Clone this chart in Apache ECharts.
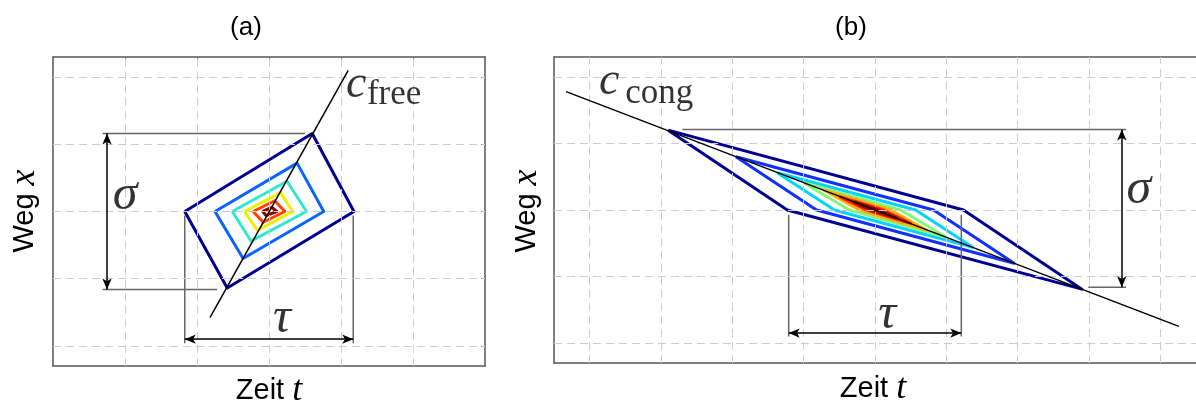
<!DOCTYPE html>
<html>
<head>
<meta charset="utf-8">
<script src="https://cdn.jsdelivr.net/npm/echarts@6/dist/echarts.min.js"></script>
<style>
  html, body { margin: 0; padding: 0; background: #fff; }
  #chart { width: 1196px; height: 408px; }
</style>
</head>
<body>
<div id="chart"></div>
<script>
// ---- grid positions (axis units) ----
const gridTimeA = [-2, -1, 0, 1, 2];
const gridTimeB = [-4, -3, -2, -1, 0, 1, 2, 3, 4];
const gridPos = [-2, -1, 0, 1, 2];

// ---- panel (a): free flow, contour levels from outside to centre ----
const freeLevel1 = [[-1.17, 0], [0.6, 1.16], [1.18, 0], [-0.58, -1.14]];
const freeLevel2 = [[-0.75, 0], [0.39, 0.72], [0.76, 0], [-0.36, -0.70]];
const freeLevel3 = [[-0.51, 0], [0.25, 0.45], [0.52, 0], [-0.25, -0.44]];
const freeLevel4 = [[-0.34, 0], [0.16, 0.28], [0.33, 0], [-0.16, -0.28]];
const freeLevel5 = [[-0.22, 0], [0.08, 0.16], [0.22, 0], [-0.08, -0.16]];
const freeLevel6 = [[-0.09, 0], [0.04, 0.06], [0.11, 0], [-0.04, -0.06]];
const freeWave = [[-0.82, -1.58], [1.10, 2.10]];

// ---- panel (b): congested flow ----
const congLevel1 = [[-2.9, 1.2], [1.24, 0], [2.9, -1.19], [-1.23, 0]];
const congLevel2 = [[-1.95, 0.8], [0.82, 0], [1.95, -0.8], [-0.82, 0]];
const congLevel3 = [[-1.37, 0.56], [0.57, 0], [1.37, -0.56], [-0.57, 0]];
const congLevel4 = [[-1.0, 0.41], [0.36, 0], [1.0, -0.41], [-0.36, 0]];
const congLevel5 = [[-0.72, 0.3], [0.22, 0], [0.72, -0.3], [-0.22, 0]];
const congLevel6 = [[-0.5, 0.2], [0.12, 0], [0.5, -0.2], [-0.12, 0]];
const congLevel7 = [[-0.3, 0.12], [0.05, 0], [0.3, -0.12], [-0.05, 0]];
const congWave = [[-4.33, 1.78], [4.26, -1.75]];

// ---- dimension annotations ----
const sigmaA = { top: 1.16, bottom: -1.16, x: -2.25, from: -2.31, topTo: 0.5, bottomTo: -0.72 };
const tauA = { left: -1.17, right: 1.17, y: -1.9, from: -0.06, to: -1.96 };
const sigmaB = { top: 1.21, bottom: -1.16, x: 3.46, topFrom: -2.7, bottomFrom: 2.99, to: 3.52 };
const tauB = { left: -1.21, right: 1.21, y: -1.85, from: -0.07, to: -1.9 };

const freeColors = ['#000090', '#0a64ff', '#30e8d0', '#f2ee00', '#ff4000', '#8b0000'];
const congColors = ['#000090', '#1030ff', '#00d4ff', '#88f47a', '#ffb000', '#ff2000', '#a00000'];

const mathFont = 'Liberation Serif';
const sansFont = 'Liberation Sans';

function closed(pts) { return pts.concat([pts[0]]); }

function polySeries(pts, color, idx, z) {
  return {
    type: 'line', xAxisIndex: idx, yAxisIndex: idx, data: closed(pts),
    symbol: 'none', silent: true, animation: false, z: z,
    lineStyle: { color: color, width: 3, join: 'round' }
  };
}

function plainLine(pts, idx, color, width, z) {
  return {
    type: 'line', xAxisIndex: idx, yAxisIndex: idx, data: pts,
    symbol: 'none', silent: true, animation: false, z: z,
    lineStyle: { color: color, width: width }
  };
}

function gridLines(idx, xs, ys) {
  return {
    type: 'line', xAxisIndex: idx, yAxisIndex: idx, data: [], silent: true, z: 1,
    markLine: {
      silent: true, symbol: 'none', animation: false, label: { show: false },
      lineStyle: { type: [8, 5], color: '#cdcdcd', width: 1 },
      data: xs.map(v => ({ xAxis: v })).concat(ys.map(v => ({ yAxis: v })))
    }
  };
}

function arrowSeries(idx, segs) {
  return {
    type: 'line', xAxisIndex: idx, yAxisIndex: idx, data: [], silent: true, z: 6,
    markLine: {
      silent: true, animation: false, symbol: ['arrow', 'arrow'], symbolSize: [7, 11],
      label: { show: false },
      lineStyle: { type: 'solid', color: '#000', width: 1.5 },
      data: segs.map(s => [{ coord: s[0] }, { coord: s[1] }])
    }
  };
}

function mathItem(xy, text, size, italic, align) {
  return {
    value: xy,
    label: {
      show: true, position: 'inside', formatter: text, color: '#000',
      fontFamily: mathFont, fontStyle: italic ? 'italic' : 'normal', fontSize: size,
      align: align, verticalAlign: 'middle'
    }
  };
}

function labelSeries(idx, items) {
  return {
    type: 'scatter', xAxisIndex: idx, yAxisIndex: idx, symbolSize: 0, silent: true,
    animation: false, z: 7, data: items
  };
}

const series = [
  gridLines(0, gridTimeA, gridPos),
  gridLines(1, gridTimeB, gridPos)
];

[freeLevel1, freeLevel2, freeLevel3, freeLevel4, freeLevel5, freeLevel6].forEach((p, i) =>
  series.push(polySeries(p, freeColors[i], 0, 3 + i * 0.01)));
[congLevel1, congLevel2, congLevel3, congLevel4, congLevel5, congLevel6, congLevel7].forEach((p, i) =>
  series.push(polySeries(p, congColors[i], 1, 3 + i * 0.01)));

series.push(plainLine(freeWave, 0, '#000', 1.5, 5));
series.push(plainLine(congWave, 1, '#000', 1.5, 5));

// extension lines of the dimensions
const extColor = '#666';
series.push(plainLine([[sigmaA.from, sigmaA.top], [sigmaA.topTo, sigmaA.top]], 0, extColor, 1.5, 4));
series.push(plainLine([[sigmaA.from, sigmaA.bottom], [sigmaA.bottomTo, sigmaA.bottom]], 0, extColor, 1.5, 4));
series.push(plainLine([[tauA.left, tauA.from], [tauA.left, tauA.to]], 0, extColor, 1.5, 4));
series.push(plainLine([[tauA.right, tauA.from], [tauA.right, tauA.to]], 0, extColor, 1.5, 4));
series.push(plainLine([[sigmaB.topFrom, sigmaB.top], [sigmaB.to, sigmaB.top]], 1, extColor, 1.5, 4));
series.push(plainLine([[sigmaB.bottomFrom, sigmaB.bottom], [sigmaB.to, sigmaB.bottom]], 1, extColor, 1.5, 4));
series.push(plainLine([[tauB.left, tauB.from], [tauB.left, tauB.to]], 1, extColor, 1.5, 4));
series.push(plainLine([[tauB.right, tauB.from], [tauB.right, tauB.to]], 1, extColor, 1.5, 4));

series.push(arrowSeries(0, [
  [[sigmaA.x, sigmaA.top], [sigmaA.x, sigmaA.bottom]],
  [[tauA.left, tauA.y], [tauA.right, tauA.y]]
]));
series.push(arrowSeries(1, [
  [[sigmaB.x, sigmaB.top], [sigmaB.x, sigmaB.bottom]],
  [[tauB.left, tauB.y], [tauB.right, tauB.y]]
]));

series.push(labelSeries(0, [
  mathItem([-2.0, 0.24], 'σ', 50, true, 'center'),
  mathItem([0.18, -1.6], 'τ', 50, true, 'center'),
  mathItem([1.07, 1.88], 'c', 46, true, 'left'),
  mathItem([1.36, 1.74], 'free', 35, false, 'left')
]));
series.push(labelSeries(1, [
  mathItem([3.70, 0.30], 'σ', 50, true, 'center'),
  mathItem([0.17, -1.58], 'τ', 50, true, 'center'),
  mathItem([-3.87, 1.93], 'c', 46, true, 'left'),
  mathItem([-3.50, 1.74], 'cong', 35, false, 'left')
]));

// frame: every side is an axis line with small inward ticks at the grid positions
const frameLine = { show: true, onZero: false, lineStyle: { color: '#555', width: 1.5 } };
function tick(values) {
  return { show: true, inside: true, length: 4, customValues: values, lineStyle: { color: '#777' } };
}
function timeAxis(idx, min, max, ticks, position) {
  return {
    type: 'value', gridIndex: idx, min: min, max: max, position: position,
    axisLine: frameLine, axisTick: tick(ticks),
    axisLabel: { show: false }, splitLine: { show: false }
  };
}
function posAxis(idx, position) {
  return {
    type: 'value', gridIndex: idx, min: -2.3, max: 2.3, position: position,
    axisLine: frameLine, axisTick: tick(gridPos),
    axisLabel: { show: false }, splitLine: { show: false }
  };
}

const richMath = { m: { fontFamily: mathFont, fontStyle: 'italic', fontSize: 36 } };
function sansText(x, y, text, size, rotation) {
  return {
    type: 'text', x: x, y: y, rotation: rotation || 0, silent: true,
    style: {
      text: text, fontFamily: sansFont, fontSize: size, fill: '#000',
      align: 'center', verticalAlign: 'middle', rich: richMath
    }
  };
}

const chart = echarts.init(document.getElementById('chart'), null, { renderer: 'canvas' });
chart.setOption({
  animation: false,
  backgroundColor: '#fff',
  grid: [
    { left: 53, top: 57, width: 432, height: 309, show: false },
    { left: 554, top: 57, width: 645, height: 306, show: false }
  ],
  xAxis: [
    timeAxis(0, -3, 3, gridTimeA, 'bottom'),
    timeAxis(1, -4.5, 4.5, gridTimeB, 'bottom'),
    timeAxis(0, -3, 3, gridTimeA, 'top'),
    timeAxis(1, -4.5, 4.5, gridTimeB, 'top')
  ],
  yAxis: [
    posAxis(0, 'left'),
    posAxis(1, 'left'),
    posAxis(0, 'right')
  ],
  graphic: [
    sansText(246, 28, '(a)', 26),
    sansText(851, 28, '(b)', 26),
    sansText(269, 391, 'Zeit {m|t}', 29),
    sansText(873, 389, 'Zeit {m|t}', 29),
    sansText(25, 211, 'Weg {m|x}', 29, Math.PI / 2),
    sansText(527, 211, 'Weg {m|x}', 29, Math.PI / 2)
  ],
  series: series
});
</script>
</body>
</html>
